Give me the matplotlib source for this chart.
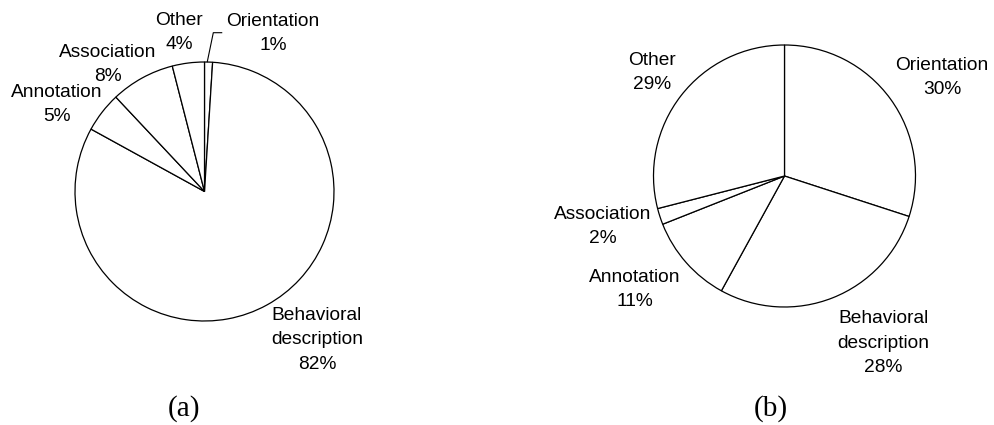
import matplotlib; matplotlib.use("Agg")
import matplotlib.pyplot as plt

W, H = 995, 425
SANS = "Liberation Sans"; SERIF = "Liberation Serif"

# ---- data ----
cats = ["Orientation", "Behavioral\ndescription", "Annotation", "Association", "Other"]
share_a = [1, 82, 5, 8, 4]
share_b = [30, 28, 11, 2, 29]
captions = ["(a)", "(b)"]

# label centres in pixels (x, y) per slice
lab_a = [(273, 33.5), (317, 340), (57, 104.5), (108, 64.5), (179, 32.5)]
lab_b = [(942, 77.5), (883, 343), (635, 289.5), (603, 226.5), (652, 72.5)]

def pie_axes(cx, cy, r):
    ax = fig.add_axes([(cx - r) / W, (H - cy - r) / H, 2 * r / W, 2 * r / H])
    return ax

def to_ax(p, cx, cy, r):
    return (p[0] - cx) / r, (cy - p[1]) / r

fig = plt.figure(figsize=(W / 100, H / 100), dpi=100)

specs = [(share_a, lab_a, (204.5, 191.5, 129.5), (184, 409)),
         (share_b, lab_b, (784.5, 176.0, 131.0), (771, 409))]
for k, (vals, labs, (cx, cy, r), cap) in enumerate(specs):
    ax = pie_axes(cx, cy, r)
    ax.pie(vals, startangle=90, counterclock=False, radius=1,
           colors=["white"] * len(vals),
           wedgeprops=dict(edgecolor="black", linewidth=0.9))
    ax.set_xlim(-1, 1); ax.set_ylim(-1, 1); ax.set_aspect("auto"); ax.axis("off")
    for name, v, p in zip(cats, vals, labs):
        x, y = to_ax(p, cx, cy, r)
        ax.text(x, y, f"{name}\n{v}%", ha="center", va="center", family=SANS,
                fontsize=13.8, linespacing=1.58, clip_on=False)
    x, y = to_ax(cap, cx, cy, r)
    ax.text(x, y, captions[k], ha="center", va="center", family=SERIF,
            fontsize=21, clip_on=False)
    if k == 0:
        # leader line for the tiny Orientation slice
        pts = [to_ax(p, cx, cy, r) for p in [(207.3, 61.7), (213.3, 32.7), (221.7, 32.7)]]
        ax.plot([q[0] for q in pts], [q[1] for q in pts], color="black", lw=0.8, clip_on=False)

fig.savefig("out.png", dpi=100, facecolor="white")
